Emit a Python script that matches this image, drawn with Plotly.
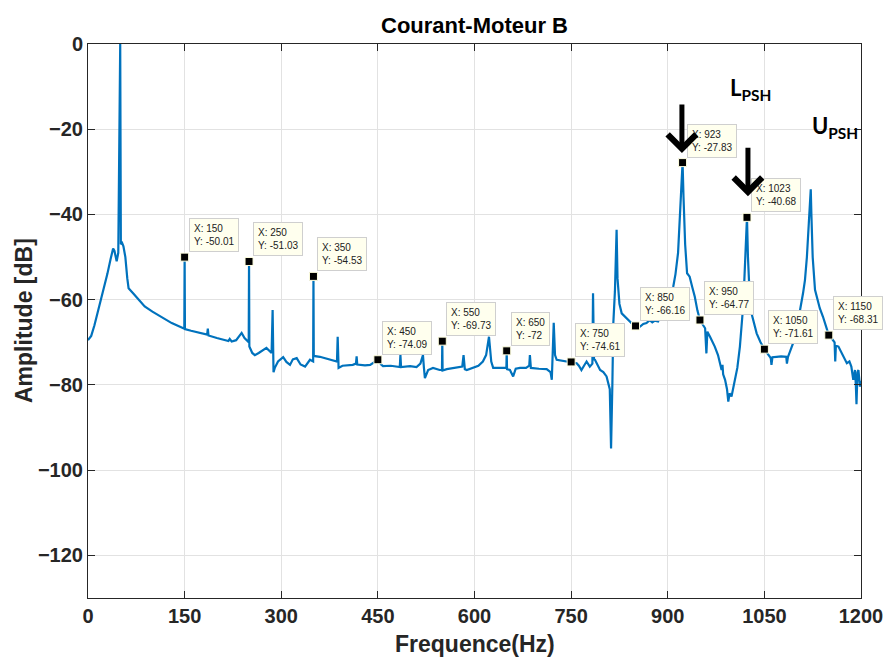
import plotly.graph_objects as go

# ---- spectrum ----
freq = [0, 5, 10, 15, 20, 25, 30, 35, 39, 41, 44.5, 47, 50, 51, 53, 55, 58, 61, 63, 70, 80, 88, 100, 114, 130,
        148, 149.5, 150, 150.5, 160, 175, 185, 186, 187, 200, 213, 218, 220, 223, 230, 238.5, 243, 249.5, 250, 250.5,
        255, 259, 265, 277, 285, 286.6, 288, 290, 295, 303, 308, 313.6, 318, 324, 330, 337, 344.6, 349.5, 350, 350.5,
        360, 370, 380, 386.5, 387.6, 389, 395, 405, 411, 416, 417, 418, 430, 438, 445, 450, 455, 458, 470, 484, 485,
        486, 500, 510, 516, 520, 521.5, 523, 528, 535.6, 546, 549.5, 550, 550.5, 557, 570, 581, 583, 585, 588, 598,
        606, 613, 618, 622.5, 626, 629, 644, 649.5, 650, 650.5, 655, 660, 664, 670.6, 680, 685, 686, 687.5, 700, 712,
        718, 720, 723, 725, 727.6, 735, 743, 750, 758.6, 762, 766, 770, 774, 779, 783, 784, 785.5, 787, 792, 795, 800,
        805, 810, 812, 814, 815.5, 818, 820.6, 822, 825, 828.5, 836, 843, 849, 850, 857, 862, 867, 872, 876, 880, 885,
        890, 897, 903, 908.6, 912, 916, 919, 921.6, 923, 924.5, 927, 930, 934, 938, 942, 946, 950, 955, 958, 960,
        961.5, 966, 973, 978, 983.6, 985, 986, 989, 992, 994, 996, 999, 1002, 1004, 1008, 1012, 1015, 1017, 1019, 1021,
        1023, 1024.5, 1027, 1030, 1034, 1038, 1044, 1050, 1054, 1058.6, 1060, 1061, 1062.5, 1069, 1076, 1084, 1085,
        1086.5, 1092, 1094.6, 1100, 1105, 1110, 1113, 1116, 1119, 1121, 1122, 1123, 1125, 1128.6, 1132, 1136, 1141,
        1146, 1150, 1154, 1157, 1159, 1160, 1161, 1165, 1170, 1175, 1178, 1182, 1185, 1188, 1190.6, 1192, 1193,
        1194.5, 1196, 1198.4, 1200]
amp = [-69.5, -68.5, -66, -63, -60.5, -57.5, -54, -50.5, -48, -48.5, -51, -49, 0, -47, -46.7, -47.5, -50, -55, -57.3,
       -58.5, -60.2, -61.6, -62.8, -64, -65.5, -66.7, -66.8, -50.01, -66.9, -67.3, -67.8, -68.2, -66.8, -68.4, -69,
       -69.5, -69.7, -69.2, -69.8, -69.5, -67.8, -69.0, -70, -51.03, -71, -72.5, -73, -72.5, -71.3, -72.5, -62.4, -77,
       -76, -74.5, -73.5, -74.6, -75.3, -74, -73.7, -75.2, -75.7, -74.1, -74.5, -54.53, -73.2, -73.4, -73.8, -74.1,
       -74.5, -68.7, -76, -75.5, -75.3, -75.3, -75, -73.3, -75.2, -75.4, -75.3, -74.5, -74.09, -75.2, -75.6, -75.5,
       -75.8, -73, -75.8, -75.6, -75.8, -75, -73, -76, -78.4, -76.5, -76, -76.5, -76.5, -69.73, -76.6, -76.3, -76,
       -75.7, -73, -76.3, -76.5, -76, -75.5, -74.5, -73, -68.7, -74.5, -76, -76, -76, -72, -76.3, -76.5, -78, -76.2,
       -76, -76, -75.5, -73, -76, -76.2, -76.3, -77, -78.8, -65.4, -73, -74.1, -74.3, -74.5, -74.61, -74.9, -75.5,
       -76.5, -75.5, -74.5, -75.7, -75, -58.5, -74, -74.1, -75.5, -76.5, -77, -78, -81, -94.9, -80, -65.5, -58, -43.6,
       -55, -61, -63.2, -64.4, -65.5, -66.3, -66.16, -66.3, -65.7, -65.5, -64.8, -65.3, -64.9, -65.1, -63.5, -61.5,
       -59.5, -56.9, -54, -49, -40, -29.5, -27.83, -36, -47, -53.8, -54.6, -57, -59.3, -62.5, -64.77, -66, -66.7,
       -72.6, -67.5, -68.8, -71, -73, -76.5, -75.3, -77.5, -78.8, -81, -83.9, -82, -82.7, -80.5, -79.5, -76, -71, -66,
       -61.6, -55, -45, -40.68, -50, -58.5, -63.2, -65.8, -67.9, -70, -71.61, -72.5, -73.4, -73.8, -75.3, -73.5,
       -73.4, -73.3, -73.4, -75, -73.5, -71, -70.2, -67, -63.2, -58.5, -55.4, -50, -42, -36, -34.1, -40, -50, -57.7,
       -60, -62, -64, -66.5, -68.31, -69, -69.5, -70, -74.5, -70.8, -71, -72.5, -74, -74.9, -74.5, -75.7, -78.8,
       -76.5, -80, -84.5, -77, -76.5, -80.4, -79]

# ---- data tips ----
tip_x = [150, 250, 350, 450, 550, 650, 750, 850, 923, 950, 1023, 1050, 1150]
tip_y = [-50.01, -51.03, -54.53, -74.09, -69.73, -72, -74.61, -66.16, -27.83, -64.77, -40.68, -71.61, -68.31]

# ---- ticks / labels ----
x_ticks = [0, 150, 300, 450, 600, 750, 900, 1050, 1200]
y_ticks = [-120, -100, -80, -60, -40, -20, 0]
title_text = "Courant-Moteur B"
x_label = "Frequence(Hz)"
y_label = "Amplitude [dB]"
arrow_x = [922, 1024.5]
arrow_y = [-25.6, -35.7]

FONT = "Liberation Sans, Arial, Helvetica, sans-serif"

fig = go.Figure()
fig.add_trace(go.Scatter(x=freq, y=amp, mode="lines",
                         line=dict(color="#0072BD", width=2.2), hoverinfo="skip"))
fig.add_trace(go.Scatter(x=tip_x, y=tip_y, mode="markers",
                         marker=dict(symbol="square", size=8, color="black",
                                     line=dict(color="#FFFFE0", width=1))))

ann = []
for xv, yv in zip(tip_x, tip_y):
    ann.append(dict(x=xv, y=yv, xref="x", yref="y", showarrow=False,
                    text=f"X: {xv:g}<br>Y: {yv:g}", align="left",
                    xanchor="left", yanchor="bottom", xshift=4, yshift=5,
                    bgcolor="#FFFFEE", bordercolor="#CFCFCF", borderwidth=1, borderpad=4,
                    font=dict(family=FONT, size=10, color="#222222")))

for ax_, ay_ in zip(arrow_x, arrow_y):
    ann.append(dict(x=ax_, y=ay_, xref="x", yref="y", ax=0, ay=-50, showarrow=True,
                    arrowhead=4, arrowwidth=5, arrowsize=1.1, arrowcolor="black", text=""))

# band labels L_PSH and U_PSH
ann.append(dict(x=993, y=-10.5, xref="x", yref="y", showarrow=False,
                text="<b>L<sub>PSH</sub></b>", xanchor="left", yanchor="middle",
                font=dict(family="Lato, Open Sans, sans-serif", size=22, color="black")))
ann.append(dict(x=1199, y=-19.5, xref="x", yref="y", showarrow=False,
                text="<b>U<sub>PSH</sub></b>", xanchor="right", yanchor="middle",
                font=dict(family="Lato, Open Sans, sans-serif", size=22, color="black")))

ann.append(dict(x=0.5, y=0, xref="paper", yref="paper", showarrow=False,
                text=f"<b>{x_label}</b>", yanchor="middle", yshift=-46,
                font=dict(family=FONT, size=23, color="#262626")))
ann.append(dict(x=0, y=0.5, xref="paper", yref="paper", showarrow=False,
                text=f"<b>{y_label}</b>", textangle=-90, xanchor="center", xshift=-64,
                font=dict(family=FONT, size=23, color="#262626")))

axis_common = dict(showgrid=True, gridcolor="#E2E2E2", gridwidth=1, showline=True,
                   linecolor="#262626", linewidth=1, mirror="ticks", ticks="inside",
                   ticklen=7, tickcolor="#262626", zeroline=False, automargin=False,
                   tickfont=dict(family=FONT, size=20, color="#262626", weight="bold"))

fig.update_layout(
    width=885, height=659,
    margin=dict(l=88, r=24, t=44, b=61, autoexpand=False),
    plot_bgcolor="white", paper_bgcolor="white",
    showlegend=False,
    title=dict(text=f"<b>{title_text}</b>", x=0.5, xref="paper", xanchor="center",
               y=1 - 25 / 659, yanchor="middle",
               font=dict(family=FONT, size=22, color="black")),
    xaxis=dict(range=[0, 1200], tickvals=x_ticks, ticklabelstandoff=0, **axis_common),
    yaxis=dict(range=[-130, 0], tickvals=y_ticks, ticklabelstandoff=0, **axis_common),
    annotations=ann,
)

fig.write_html("out.html")
